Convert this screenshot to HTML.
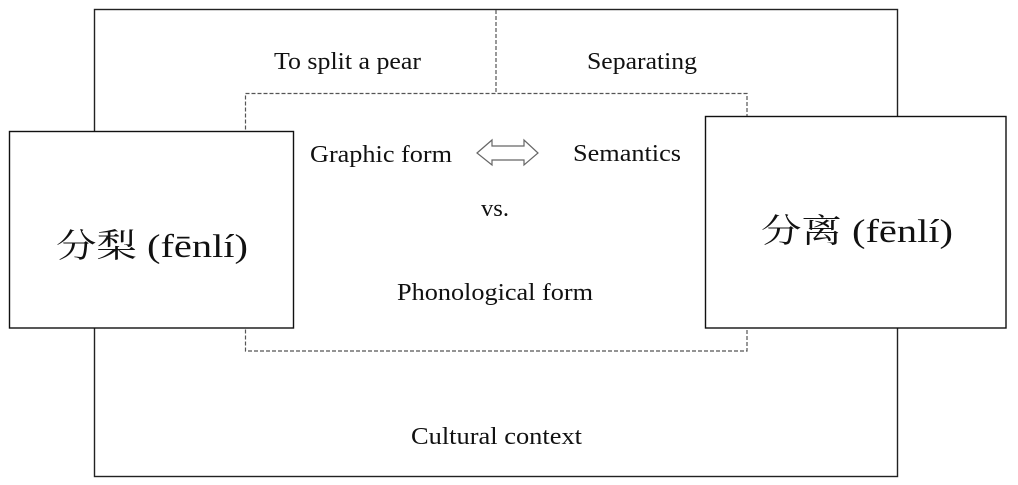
<!DOCTYPE html>
<html>
<head>
<meta charset="utf-8">
<style>
  html, body { margin: 0; padding: 0; background: #fff; }
  body { width: 1018px; height: 485px; overflow: hidden; }
  svg { display: block; }
  text { font-family: "Liberation Serif", "Noto Serif CJK SC", serif; fill: #111; }
</style>
</head>
<body>
<svg width="1018" height="485" viewBox="0 0 1018 485" xmlns="http://www.w3.org/2000/svg">
  <rect x="0" y="0" width="1018" height="485" fill="#fff"/>
  <!-- Outer box (cultural context) -->
  <rect x="94.5" y="9.5" width="803" height="467" fill="none" stroke="#222" stroke-width="1.4"/>
  <!-- Dashed vertical divider -->
  <line x1="496" y1="10" x2="496" y2="93.5" stroke="#555" stroke-width="1.2" stroke-dasharray="4,2"/>
  <!-- Dashed inner box -->
  <rect x="245.5" y="93.5" width="501.5" height="257.5" fill="none" stroke="#555" stroke-width="1.2" stroke-dasharray="4,2"/>
  <!-- Left box -->
  <rect x="9.5" y="131.5" width="284" height="196.5" fill="#fff" stroke="#111" stroke-width="1.4"/>
  <!-- Right box -->
  <rect x="705.5" y="116.5" width="300.5" height="211.5" fill="#fff" stroke="#111" stroke-width="1.4"/>
  <!-- Double arrow -->
  <polygon points="477,153 492,140 492,146 524,146 524,140 538,153 524,165 524,160 492,160 492,165" fill="#fff" stroke="#666" stroke-width="1.2" stroke-linejoin="miter"/>

  <!-- Labels -->
  <text x="274" y="69" font-size="24" textLength="147" lengthAdjust="spacingAndGlyphs">To split a pear</text>
  <text x="587" y="69" font-size="24" textLength="110" lengthAdjust="spacingAndGlyphs">Separating</text>
  <text x="310" y="162" font-size="24" textLength="142" lengthAdjust="spacingAndGlyphs">Graphic form</text>
  <text x="573" y="161" font-size="24" textLength="108" lengthAdjust="spacingAndGlyphs">Semantics</text>
  <text x="481" y="216" font-size="24" textLength="28" lengthAdjust="spacingAndGlyphs">vs.</text>
  <text x="397" y="300" font-size="24" textLength="196" lengthAdjust="spacingAndGlyphs">Phonological form</text>
  <text x="411" y="444" font-size="24" textLength="171" lengthAdjust="spacingAndGlyphs">Cultural context</text>
  <text x="56" y="257" font-size="33" textLength="192" lengthAdjust="spacingAndGlyphs">分梨 (fēnlí)</text>
  <text x="761" y="242" font-size="33" textLength="192" lengthAdjust="spacingAndGlyphs">分离 (fēnlí)</text>
</svg>
</body>
</html>
